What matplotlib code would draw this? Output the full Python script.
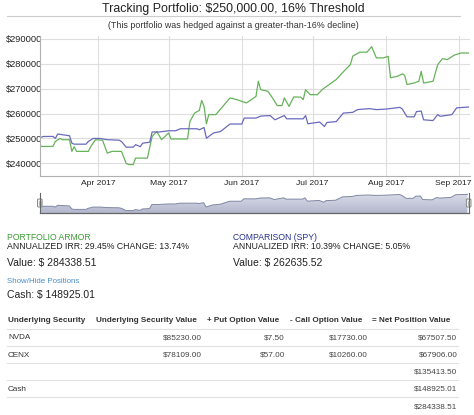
import matplotlib.pyplot as plt
import matplotlib.dates as mdates
import numpy as np
import pandas as pd
from matplotlib.transforms import Bbox, TransformedBbox, ScaledTranslation
from matplotlib.patches import FancyBboxPatch
from matplotlib.colors import LinearSegmentedColormap

plt.rcParams['font.family'] = ['Liberation Sans', 'DejaVu Sans']

W, H = 474, 415

# data
armor_dates = ['2017-03-07', '2017-03-08', '2017-03-13', '2017-03-14', '2017-03-16', '2017-03-17',
               '2017-03-20', '2017-03-21', '2017-03-22', '2017-03-23', '2017-03-28', '2017-03-29',
               '2017-03-31', '2017-04-03', '2017-04-05', '2017-04-07', '2017-04-11', '2017-04-13',
               '2017-04-14', '2017-04-16', '2017-04-17', '2017-04-22', '2017-04-24', '2017-04-26',
               '2017-04-28', '2017-05-01', '2017-05-02', '2017-05-09', '2017-05-10', '2017-05-12',
               '2017-05-14', '2017-05-15', '2017-05-16', '2017-05-17', '2017-05-18', '2017-05-21',
               '2017-05-27', '2017-05-30', '2017-06-01', '2017-06-03', '2017-06-05', '2017-06-07',
               '2017-06-08', '2017-06-09', '2017-06-12', '2017-06-14', '2017-06-16', '2017-06-18',
               '2017-06-19', '2017-06-21', '2017-06-23', '2017-06-26', '2017-06-27', '2017-06-28',
               '2017-06-30', '2017-07-03', '2017-07-05', '2017-07-08', '2017-07-11', '2017-07-14',
               '2017-07-17', '2017-07-18', '2017-07-21', '2017-07-24', '2017-07-26', '2017-07-28',
               '2017-07-31', '2017-08-02', '2017-08-03', '2017-08-06', '2017-08-08', '2017-08-09',
               '2017-08-10', '2017-08-13', '2017-08-15', '2017-08-16', '2017-08-17', '2017-08-21',
               '2017-08-23', '2017-08-25', '2017-08-27', '2017-08-30', '2017-09-02', '2017-09-05']
armor_values = [248100, 246800, 246800, 248800, 250000, 249500,
                249500, 244800, 246700, 244800, 244800, 246700,
                249500, 249300, 244100, 244800, 244800, 240000,
                239500, 239500, 242100, 242100, 250800, 252800,
                249500, 252200, 249800, 249800, 256800, 260200,
                261300, 265300, 262900, 255900, 259600, 259600,
                266300, 265600, 264900, 264300, 265600, 266900,
                273000, 269600, 269000, 266300, 263200, 263200,
                266300, 262900, 266700, 266600, 265600, 269600,
                267600, 267600, 269600, 271700, 273700, 276800,
                279700, 283100, 284700, 284700, 286900, 282400,
                282400, 283000, 274400, 275000, 276000, 275300,
                271700, 272300, 273000, 277000, 272300, 273000,
                279700, 282100, 281700, 283500, 284400, 284338.51]

spy_dates = ['2017-03-07', '2017-03-09', '2017-03-13', '2017-03-14', '2017-03-15', '2017-03-17',
             '2017-03-20', '2017-03-21', '2017-03-22', '2017-03-27', '2017-03-28', '2017-03-30',
             '2017-04-02', '2017-04-05', '2017-04-10', '2017-04-11', '2017-04-13', '2017-04-16',
             '2017-04-17', '2017-04-19', '2017-04-20', '2017-04-23', '2017-04-24', '2017-04-27',
             '2017-05-01', '2017-05-04', '2017-05-06', '2017-05-13', '2017-05-14', '2017-05-16',
             '2017-05-17', '2017-05-20', '2017-05-23', '2017-05-27', '2017-06-01', '2017-06-02',
             '2017-06-07', '2017-06-09', '2017-06-13', '2017-06-15', '2017-06-19', '2017-06-20',
             '2017-06-27', '2017-06-28', '2017-06-29', '2017-07-04', '2017-07-06', '2017-07-07',
             '2017-07-11', '2017-07-14', '2017-07-18', '2017-07-20', '2017-07-25', '2017-07-28',
             '2017-08-01', '2017-08-07', '2017-08-08', '2017-08-10', '2017-08-13', '2017-08-14',
             '2017-08-16', '2017-08-17', '2017-08-21', '2017-08-23', '2017-08-24', '2017-08-29',
             '2017-08-31', '2017-09-05']
spy_values = [250150, 250800, 250800, 250000, 251800, 251500,
              251100, 248100, 247700, 247700, 248800, 250000,
              250000, 249500, 249300, 248800, 246500, 246500,
              247500, 246700, 248100, 248500, 252600, 252600,
              253100, 253100, 253900, 253900, 253500, 254400,
              250100, 252200, 252800, 255800, 255800, 258200,
              258200, 259000, 259200, 257500, 259200, 257900,
              257900, 259200, 255900, 256600, 254800, 256400,
              256800, 260200, 260500, 261600, 262000, 261600,
              261800, 262500, 261800, 258700, 258700, 260800,
              261000, 257500, 257200, 259600, 258900, 259600,
              262300, 262635.52]

y_ticks = [240000, 250000, 260000, 270000, 280000, 290000]
x_ticks = ['2017-04-01', '2017-05-01', '2017-06-01', '2017-07-01', '2017-08-01', '2017-09-01']

title = 'Tracking Portfolio: $250,000.00, 16% Threshold'
subtitle = '(This portfolio was hedged against a greater-than-16% decline)'
armor_name = 'PORTFOLIO ARMOR'
armor_stats = 'ANNUALIZED IRR: 29.45% CHANGE: 13.74%'
armor_value = 'Value: $ 284338.51'
spy_name = 'COMPARISON (SPY)'
spy_stats = 'ANNUALIZED IRR: 10.39% CHANGE: 5.05%'
spy_value = 'Value: $ 262635.52'
cash_text = 'Cash: $ 148925.01'

table_columns = ['Underlying Security', 'Underlying Security Value', '+ Put Option Value',
                 '- Call Option Value', '= Net Position Value']
table_rows = [['NVDA', '$85230.00', '$7.50', '$17730.00', '$67507.50'],
              ['CENX', '$78109.00', '$57.00', '$10260.00', '$67906.00'],
              ['', '', '', '', '$135413.50'],
              ['Cash', '', '', '', '$148925.01'],
              ['', '', '', '', '$284338.51']]

armor_x = pd.to_datetime(armor_dates)
spy_x = pd.to_datetime(spy_dates)
tick_x = pd.to_datetime(x_ticks)
x0 = pd.Timestamp('2017-03-07 12:00')
x1 = pd.Timestamp('2017-09-05 16:00')


def box(l, t, r, b):
    return [l / W, 1 - b / H, (r - l) / W, (b - t) / H]


fig = plt.figure(figsize=(W / 100, H / 100), dpi=100)

# main chart
ax = fig.add_axes(box(40, 36, 470, 176))
ax.plot(armor_x, armor_values, color='#66b35a', lw=0.9)
ax.plot(spy_x, spy_values, color='#6a6abf', lw=0.9)
ax.set_xlim(x0, x1)
ax.set_ylim(234900, 291200)
ax.set_yticks(y_ticks)
ylabels = ax.set_yticklabels(['$%d' % v for v in y_ticks])
ax.set_xticks(tick_x)
xlabels = ax.set_xticklabels([d.strftime('%b %Y') for d in tick_x])
ax.grid(color='#dedede', lw=0.8)
for s in ['top', 'right']:
    ax.spines[s].set_visible(False)
for s in ['left', 'bottom']:
    ax.spines[s].set_color('#b0b0b0')
    ax.spines[s].set_linewidth(0.8)
ax.tick_params(length=0, colors='#222222')
ax.tick_params(axis='y', pad=-1.8, labelsize=6.7)
ax.tick_params(axis='x', pad=3, labelsize=6.1)
clip = TransformedBbox(Bbox([[0, 0], [39.5 / W, 1]]), fig.transFigure)
for t in ylabels:
    t.set_clip_box(clip)
    t.set_clip_on(True)
# last month label is pushed left to stay inside the plot, like the original
xlabels[-1].set_transform(xlabels[-1].get_transform() + ScaledTranslation(-5.5 / 100, 0, fig.dpi_scale_trans))

# navigator
nav = fig.add_axes(box(40, 193, 469, 213.5))
nav_bottom = 243600
poly = nav.fill_between(spy_x, spy_values, nav_bottom, color='none')
grad = np.linspace(0, 1, 64).reshape(-1, 1)
cmap = LinearSegmentedColormap.from_list('nav', ['#b2b7cd', '#dde0ea'])
img = nav.imshow(grad, cmap=cmap,
                 extent=[mdates.date2num(x0), mdates.date2num(x1), nav_bottom, 264000],
                 aspect='auto', origin='lower')
img.set_clip_path(poly.get_paths()[0], transform=nav.transData)
nav.plot(spy_x, spy_values, color='#8088a4', lw=0.7)
nav.set_xlim(x0, x1)
nav.set_ylim(nav_bottom, 264000)
nav.set_xticks([])
nav.set_yticks([])
for s in ['top', 'left', 'right']:
    nav.spines[s].set_visible(False)
nav.spines['bottom'].set_color('#666666')
nav.spines['bottom'].set_linewidth(0.9)
nav.patch.set_alpha(0)

# overlay in pixel coordinates for text and table
ov = fig.add_axes([0, 0, 1, 1])
ov.set_xlim(0, W)
ov.set_ylim(H, 0)
ov.axis('off')

ov.text(233, 9, title, ha='center', va='center', fontsize=8.9, color='#222222')
ov.plot([7, 460], [16.3, 16.3], color='#cccccc', lw=0.8)
ov.text(233, 26, subtitle, ha='center', va='center', fontsize=6.4, color='#333333')

# navigator handles
for hx in [39.8, 468.7]:
    ov.plot([hx, hx], [192.7, 213.3], color='#666666', lw=0.8)
    ov.add_patch(FancyBboxPatch((hx - 2.3, 199), 4.6, 8, boxstyle='round,pad=0,rounding_size=1',
                                fc='#f2f2f2', ec='#888888', lw=0.7))
    for dx in [-0.8, 0.8]:
        ov.plot([hx + dx, hx + dx], [201, 205], color='#888888', lw=0.4)

# summary
ov.text(7, 237.7, armor_name, ha='left', va='center', fontsize=6.2, color='#3a9a35')
ov.text(7, 246.7, armor_stats, ha='left', va='center', fontsize=6.3, color='#222222')
ov.text(7, 263, armor_value, ha='left', va='center', fontsize=7.5, color='#222222')
ov.text(233, 237.7, spy_name, ha='left', va='center', fontsize=6.2, color='#27308a')
ov.text(233, 246.7, spy_stats, ha='left', va='center', fontsize=6.3, color='#222222')
ov.text(233, 263, spy_value, ha='left', va='center', fontsize=7.5, color='#222222')
ov.text(7, 281, 'Show/Hide Positions', ha='left', va='center', fontsize=5.7, color='#4a8ccc')
ov.text(7, 295, cash_text, ha='left', va='center', fontsize=7.5, color='#222222')

# positions table
head_x = [8, 96, 207, 290, 372]
right_x = [None, 201.7, 285, 367.7, 457.3]
row_y = [337.7, 355, 371.7, 389.3, 406.7]
for cx, name in zip(head_x, table_columns):
    ov.text(cx, 320.7, name, ha='left', va='center', fontsize=5.9, fontweight='bold', color='#333333')
for ly in [329, 346, 363, 380, 397]:
    ov.plot([7, 458], [ly, ly], color='#e2e2e2', lw=0.8)
for ry, row in zip(row_y, table_rows):
    ov.text(8, ry, row[0], ha='left', va='center', fontsize=5.9, color='#333333')
    for rx, val in zip(right_x[1:], row[1:]):
        ov.text(rx, ry, val, ha='right', va='center', fontsize=5.9, color='#444444')

fig.savefig('out.png', dpi=100)
